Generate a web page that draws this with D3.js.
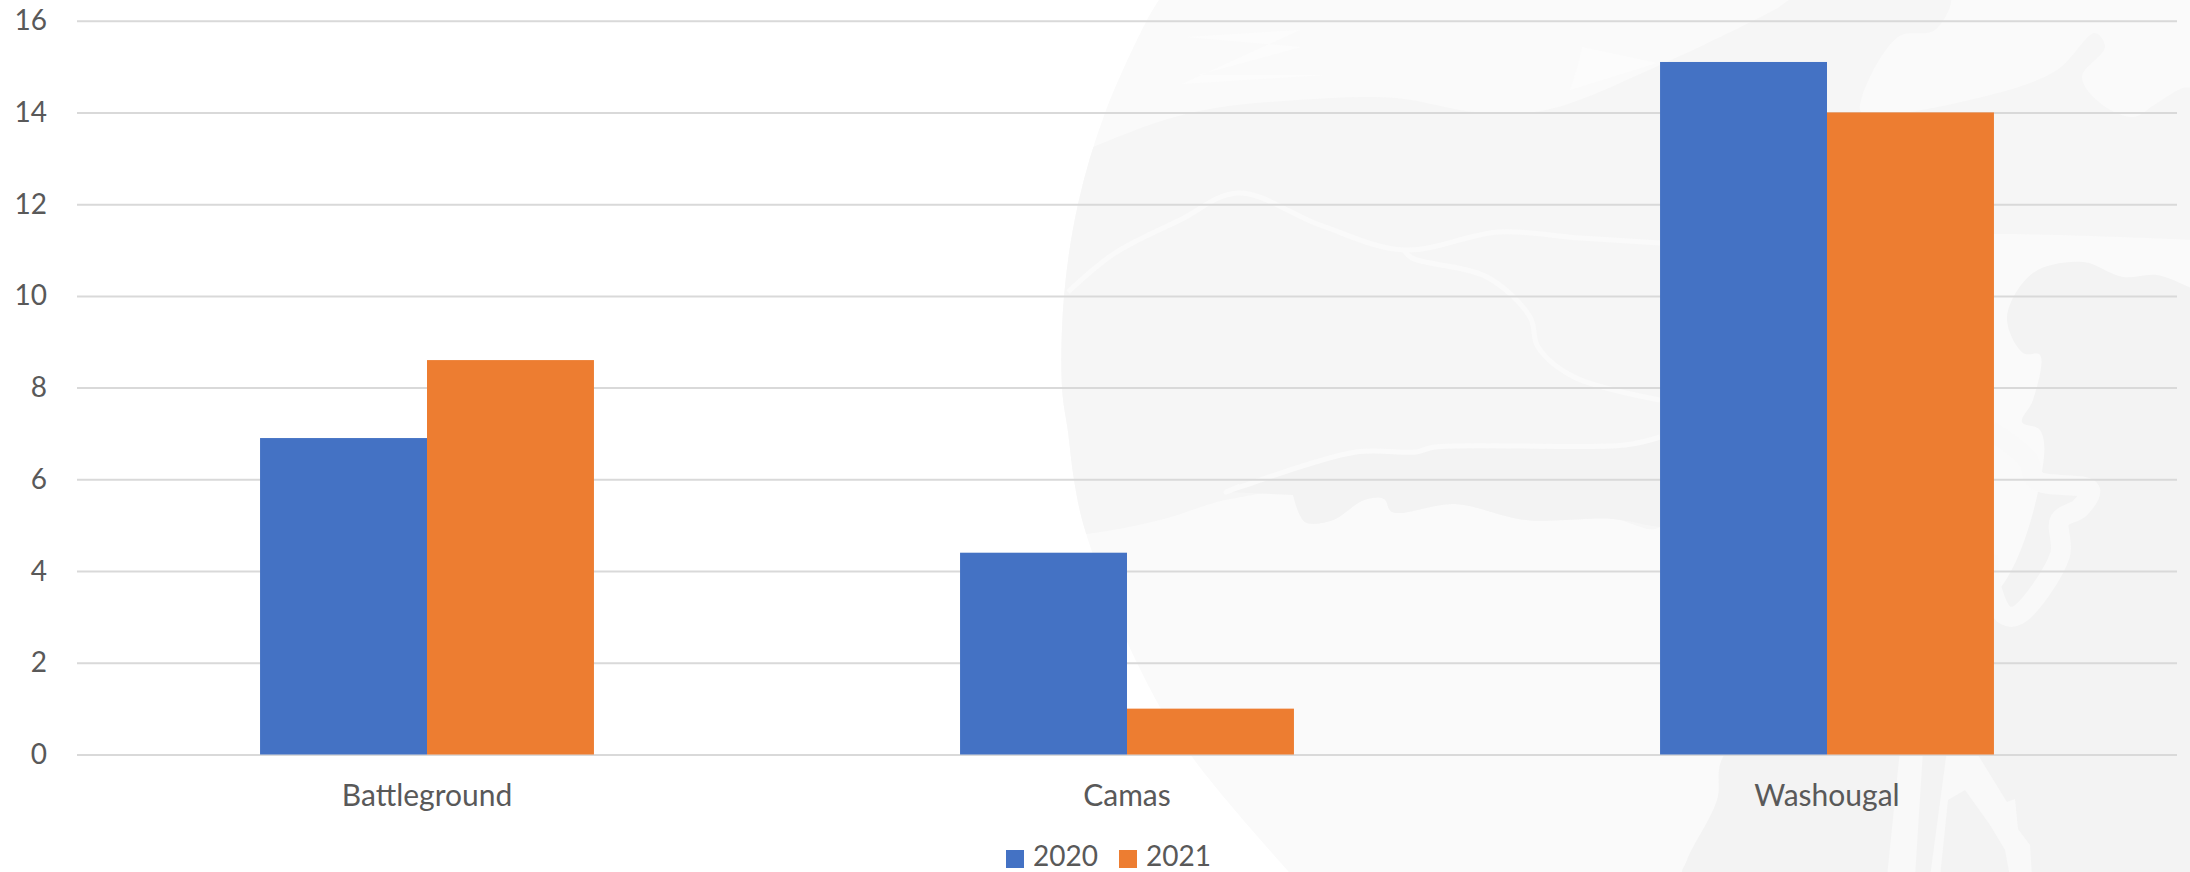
<!DOCTYPE html>
<html>
<head>
<meta charset="utf-8">
<script src="https://cdn.jsdelivr.net/npm/d3@7"></script>
<style>
  html, body { margin: 0; padding: 0; background: #fff; }
  svg { display: block; }
  text { font-family: Lato, "Open Sans", sans-serif; fill: #595959; }
  .axis--y text { font-size: 28px; }
  .axis--x text { font-size: 30px; }
  .axis line { stroke: #d9d9d9; stroke-width: 2; }
  .axis path { display: none; }
</style>
</head>
<body>
<svg id="chart"></svg>
<script>
var categories = ["Battleground", "Camas", "Washougal"];
var years = ["2020", "2021"];
var values_2020 = [6.9, 4.4, 15.1];
var values_2021 = [8.6, 1, 14];
var y_ticks = [0, 2, 4, 6, 8, 10, 12, 14, 16];
var series_colors = ["#4472c4", "#ed7d31"];

var total_width = 2190, total_height = 872;

var svg = d3.select("#chart")
    .attr("width", total_width)
    .attr("height", total_height);

/* faint emblem behind the plot */
var smooth = d3.line().curve(d3.curveCatmullRom);
var rough = d3.line().curve(d3.curveLinear);

var disc_edge = [[1159,0],[1147,20],[1105,113],[1078,204],[1064,296],[1062,388],[1068,432],[1074,480],[1085,530],[1137,663],[1190,754],[1289,872]];
var band_top = [[1000,190],[1093,147],[1190,113],[1297,100],[1396,98],[1475,112],[1546,110],[1660,65],[1774,10],[1800,-5],[1950,-5],[1935,30],[1898,37],[1862,97],[1862,113],[1990,95],[2057,70],[2095,33],[2105,47],[2082,77],[2100,103],[2133,117],[2157,103],[2183,88],[2195,88]];
var band_bottom = [[2195,240],[1994,234],[1800,240],[1700,400],[1660,527],[1613,519],[1526,520],[1455,504],[1392,512],[1384,499],[1364,500],[1333,520],[1305,522],[1293,495],[1230,499],[1160,520],[1087,534],[1000,540]];
var low_band = [[1226,492],[1356,452],[1416,452],[1435,447],[1625,445],[1660,437],[1700,437],[1700,527],[1660,527],[1613,519],[1526,520],[1455,504],[1392,512],[1384,499],[1364,500],[1333,520],[1305,522],[1293,495]];
var right_dark = [[2195,290],[2157,275],[2123,277],[2083,262],[2033,273],[2007,317],[2023,353],[2040,355],[2033,400],[2022,422],[2040,430],[2043,465],[1990,600],[1850,640],[1723,757],[1717,800],[1687,860],[1683,877],[2195,877]];
var mountain = [[1068,292],[1115,253],[1180,220],[1238,193],[1320,225],[1404,250],[1499,232],[1580,238],[1660,243]];
var ridge = [[1404,250],[1412,258],[1487,277],[1530,317],[1538,347],[1574,377],[1660,400]];
var shore = [[1240,486],[1226,492],[1240,487],[1356,452],[1416,452],[1435,447],[1625,445],[1660,437]];
var river = [[1990,430],[2028,460],[2036,480],[2090,490],[2080,508],[2060,520],[2060,555],[2018,615],[2005,615],[1992,590],[1988,555]];
var stripe_a = [[1900,750],[1923,750],[1915,877],[1887,877]];
var stripe_b = [[1947,750],[1975,750],[2007,802],[2015,799],[2018,829],[2030,845],[2032,877],[2010,877],[2005,850],[1990,825],[1965,790],[1948,800],[1940,877],[1930,877]];
var feathers = [
  [[1186,37],[1301,47],[1198,75],[1325,75],[1182,84],[1300,30],[1186,37]],
  [[1582,47],[1657,63],[1570,90],[1578,65]]
];

svg.append("clipPath").attr("id", "disc")
  .append("path").attr("d", smooth(disc_edge) + "L2190,872L2190,0Z");

var emblem = svg.append("g").attr("clip-path", "url(#disc)");
emblem.append("rect").attr("width", total_width).attr("height", total_height).attr("fill", "#fafafa");
emblem.selectAll(".feather").data(feathers).enter().append("path")
    .attr("class", "feather")
    .attr("d", function(d) { return rough(d) + "Z"; })
    .attr("fill", "#fcfcfc");
emblem.append("path").attr("d", smooth(band_top) + "L" + smooth(band_bottom).slice(1) + "Z").attr("fill", "#f6f6f6");
emblem.append("path").attr("d", smooth(low_band) + "Z").attr("fill", "#f3f3f3");
emblem.append("path").attr("d", smooth(right_dark) + "Z").attr("fill", "#f3f3f3");
[mountain, ridge, shore].forEach(function(d) {
  emblem.append("path").attr("d", smooth(d))
      .attr("fill", "none").attr("stroke", "#fafafa").attr("stroke-width", 5);
});
emblem.append("path").attr("d", smooth(river))
    .attr("fill", "none").attr("stroke", "#f9f9f9").attr("stroke-width", 20).attr("stroke-linejoin", "round");
[stripe_a, stripe_b].forEach(function(d) {
  emblem.append("path").attr("d", rough(d) + "Z").attr("fill", "#f9f9f9");
});

/* D3 margin convention */
var margin = {top: 20.7, right: 13, bottom: 117.5, left: 77},
    width = total_width - margin.left - margin.right,
    height = total_height - margin.top - margin.bottom;

var x_groups = d3.scaleBand().domain(categories).range([0, width]).paddingInner(0.523).paddingOuter(0.2615);
var x_bars = d3.scaleBand().domain(years).range([0, x_groups.bandwidth()]);
var y_scale = d3.scaleLinear().domain([0, 16]).range([height, 0]);

var g = svg.append("g")
    .attr("transform", "translate(" + margin.left + "," + margin.top + ")");

g.append("g")
    .attr("class", "axis axis--y")
    .call(d3.axisLeft(y_scale).tickValues(y_ticks).tickSize(-width).tickPadding(30));

g.append("g")
    .attr("class", "axis axis--x")
    .attr("transform", "translate(0," + height + ")")
    .call(d3.axisBottom(x_groups).tickSize(0).tickPadding(30));

var all_values = [values_2020, values_2021];
years.forEach(function(year, i) {
  g.selectAll(".bar-" + year)
    .data(all_values[i])
    .enter().append("rect")
      .attr("class", "bar-" + year)
      .attr("x", function(d, j) { return x_groups(categories[j]) + x_bars(year); })
      .attr("y", function(d) { return y_scale(d); })
      .attr("width", x_bars.bandwidth())
      .attr("height", function(d) { return height - y_scale(d); })
      .attr("fill", series_colors[i]);
});

var legend_x = d3.scalePoint().domain(years).range([1006, 1119]);
var legend = svg.selectAll(".legend")
    .data(years)
    .enter().append("g")
      .attr("class", "legend")
      .attr("transform", function(d) { return "translate(" + legend_x(d) + ",850)"; });

legend.append("rect")
    .attr("width", 18)
    .attr("height", 18)
    .attr("fill", function(d, i) { return series_colors[i]; });

/* baseline kept a touch high so the font box stays inside the page */
legend.append("text")
    .attr("x", 27)
    .attr("y", 15.9)
    .style("font-size", "28px")
    .text(function(d) { return d; });
</script>
</body>
</html>
